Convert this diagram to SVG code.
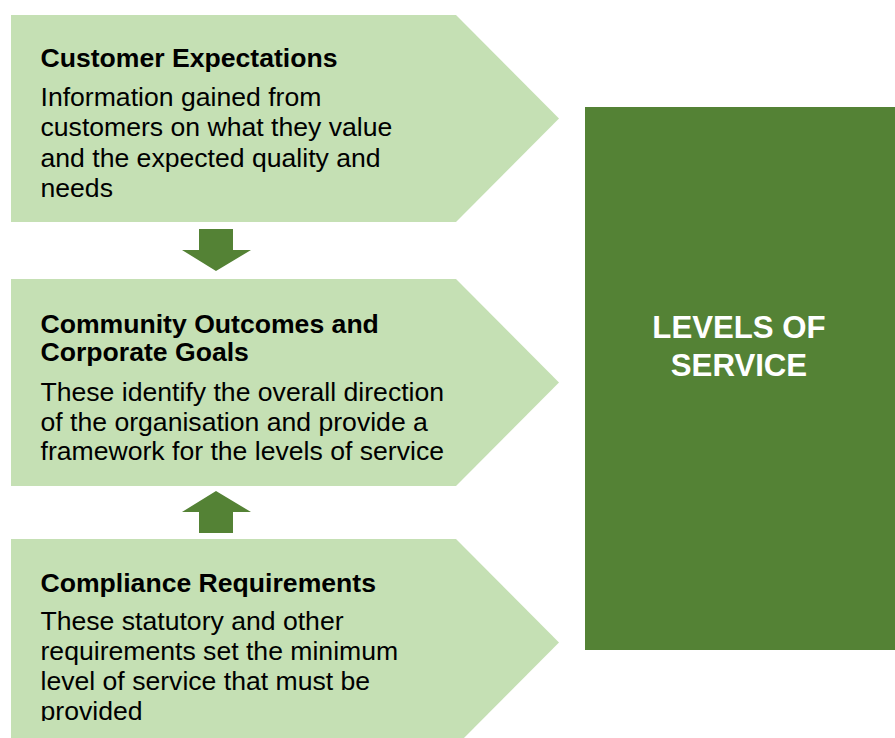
<svg xmlns="http://www.w3.org/2000/svg" width="895" height="738" viewBox="0 0 895 738">
  <style>
    .chev { fill: #C5E0B4; }
    .arrow { fill: #548235; }
    .title { font-family: "Liberation Sans", Arial, sans-serif; font-weight: bold; font-size: 26.6px; fill: #000; }
    .body { font-family: "Liberation Sans", Arial, sans-serif; font-size: 26.6px; fill: #000; }
    .los { font-family: "Liberation Sans", Arial, sans-serif; font-weight: bold; font-size: 31.2px; fill: #fff; text-anchor: middle; }
  </style>
  <defs>
    <clipPath id="bottomTextClip">
      <rect x="0" y="539" width="560" height="182"/>
    </clipPath>
  </defs>
  <rect width="895" height="738" fill="#fff"/>

  <!-- connectors between the stacked chevrons -->
  <g id="connectors">
    <polygon class="arrow" points="199,229 233,229 233,250 251,250 216,271 182,250 199,250"/>
    <polygon class="arrow" points="216,491 251,512 233,512 233,533 199,533 199,512 182,512"/>
  </g>

  <g id="customer-expectations">
    <polygon class="chev" points="11,15 456,15 559,118.5 456,222 11,222"/>
    <text class="title" x="40.5" y="67">Customer Expectations</text>
    <text class="body" x="40.5" y="106">Information gained from</text>
    <text class="body" x="40.5" y="136.3">customers on what they value</text>
    <text class="body" x="40.5" y="166.6">and the expected quality and</text>
    <text class="body" x="40.5" y="197">needs</text>
  </g>

  <g id="community-outcomes">
    <polygon class="chev" points="11,279 456,279 559,382.5 456,486 11,486"/>
    <text class="title" x="40.5" y="333">Community Outcomes and</text>
    <text class="title" x="40.5" y="361">Corporate Goals</text>
    <text class="body" x="40.5" y="401">These identify the overall direction</text>
    <text class="body" x="40.5" y="430.5">of the organisation and provide a</text>
    <text class="body" x="40.5" y="460">framework for the levels of service</text>
  </g>

  <g id="compliance-requirements">
    <polygon class="chev" points="11,539 456,539 559,642.5 456,746 11,746"/>
    <text class="title" x="40.5" y="592">Compliance Requirements</text>
    <g clip-path="url(#bottomTextClip)">
      <text class="body" x="40.5" y="630">These statutory and other</text>
      <text class="body" x="40.5" y="660">requirements set the minimum</text>
      <text class="body" x="40.5" y="690">level of service that must be</text>
      <text class="body" x="40.5" y="720">provided</text>
    </g>
  </g>

  <g id="levels-of-service">
    <rect x="585" y="107" width="310" height="543" fill="#548235"/>
    <text class="los" x="739" y="338">LEVELS OF</text>
    <text class="los" x="739" y="376">SERVICE</text>
  </g>
</svg>
